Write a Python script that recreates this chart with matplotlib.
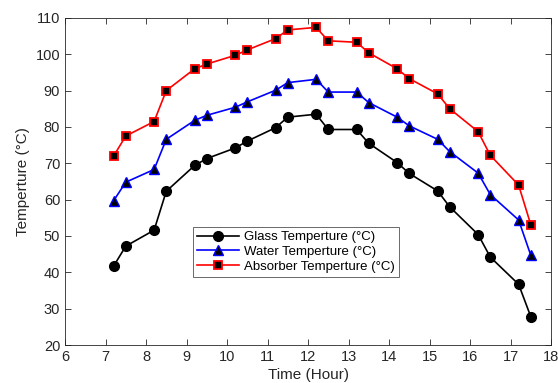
import matplotlib
matplotlib.use("Agg")
import matplotlib.pyplot as plt

hours = [7.2, 7.5, 8.2, 8.5, 9.2, 9.5, 10.2, 10.5, 11.2, 11.5, 12.2, 12.5,
         13.2, 13.5, 14.2, 14.5, 15.2, 15.5, 16.2, 16.5, 17.2, 17.5]
glass = [41.7, 47.2, 51.6, 62.3, 69.4, 71.3, 74.2, 76.1, 79.8, 82.7, 83.5, 79.3,
         79.3, 75.5, 70.2, 67.2, 62.4, 58.0, 50.4, 44.2, 36.7, 27.8]
water = [59.7, 64.8, 68.3, 76.6, 81.8, 83.2, 85.4, 86.9, 90.1, 92.2, 93.1, 89.6,
         89.6, 86.7, 82.7, 80.3, 76.6, 73.2, 67.3, 61.4, 54.4, 44.7]
absorber = [72.0, 77.5, 81.5, 90.0, 96.0, 97.3, 99.7, 101.2, 104.3, 106.7, 107.4, 103.7,
            103.3, 100.4, 96.0, 93.3, 89.1, 85.0, 78.7, 72.2, 64.0, 53.1]
labels = ["Glass Temperture (°C)", "Water Temperture (°C)", "Absorber Temperture (°C)"]

plt.rcParams['font.family'] = ['Liberation Sans', 'DejaVu Sans']
fig = plt.figure(figsize=(5.58, 3.83), dpi=100)
ax = fig.add_axes([0.1165, 0.0992, 0.871, 0.854])

ax.plot(hours, glass, color='black', marker='o', markersize=7, lw=1.2,
        markerfacecolor='black', markeredgecolor='black', label=labels[0])
ax.plot(hours, water, color='blue', marker='^', markersize=7, lw=1.2,
        markerfacecolor='black', markeredgecolor='blue', label=labels[1])
ax.plot(hours, absorber, color='red', marker='s', markersize=5.5, lw=1.2,
        markerfacecolor='black', markeredgecolor='red', markeredgewidth=1.3, label=labels[2])

ax.set_xlim(6, 18)
ax.set_ylim(20, 110)
ax.set_xticks(range(6, 19))
ax.set_yticks(range(20, 111, 10))
ax.tick_params(direction='in', top=True, right=True, labelsize=10.5,
               colors='#262626', length=4, width=0.6)
for s in ax.spines.values():
    s.set_color('#262626')
    s.set_linewidth(0.6)
ax.set_xlabel("Time (Hour)", fontsize=11, color='#262626', labelpad=3)
ax.set_ylabel("Temperture (°C)", fontsize=11, color='#262626')

leg = ax.legend(loc='upper left', bbox_to_anchor=(0.263, 0.361), borderaxespad=0,
                fontsize=9.5, frameon=True, fancybox=False, edgecolor='#262626',
                borderpad=0.3, labelspacing=0.2, handlelength=3.2, handletextpad=0.4)
leg.get_frame().set_linewidth(0.6)

fig.savefig("out.png", dpi=100)
